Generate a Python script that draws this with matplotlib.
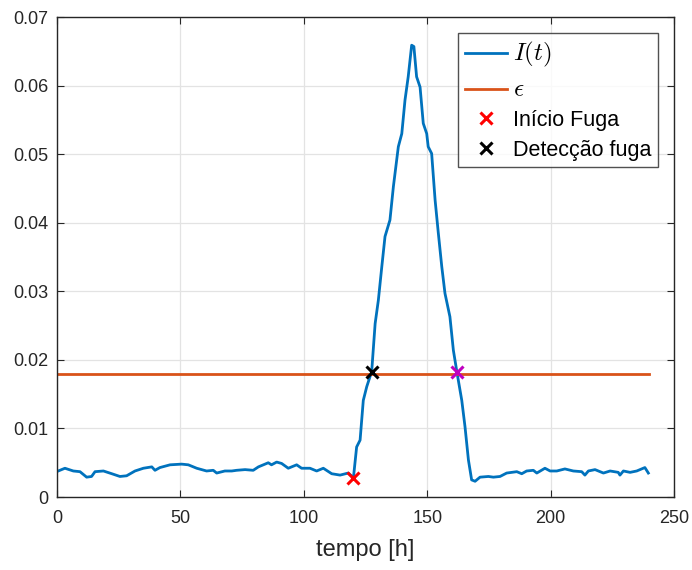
import numpy as np
import matplotlib
matplotlib.use('Agg')
from matplotlib import pyplot as plt

plt.rcParams['font.family'] = ['Liberation Sans', 'DejaVu Sans']
plt.rcParams['mathtext.fontset'] = 'cm'

# I(t) curve
t = [0.5, 3.2, 6.6, 9.3, 12, 14, 15.4, 18.8, 22.2, 25.5, 28.2, 31.6, 35, 38.4, 39.7,
     41.7, 45.8, 50.5, 53.2, 56.6, 60.6, 63.3, 64.7, 68, 70.8, 72.8, 76.2, 79.5, 81.6,
     85.6, 86.9, 89, 91, 93.7, 97.1, 99.1, 102.5, 105.2, 107.9, 111.3, 114.7, 118, 120.1,
     121.4, 122.8, 124.1, 125.5, 127.5, 128.9, 130.2, 131.6, 132.9, 134.9, 136.3, 138.3,
     139.7, 141, 142.3, 143.7, 144.6, 145.7, 147.1, 148.4, 149.8, 150.4, 151.8, 153.2,
     154.5, 155.9, 157.2, 159.2, 160.6, 162, 164, 165.3, 166.7, 168, 169.4, 171.4, 174.8,
     176.8, 179.5, 182.2, 186.3, 188.3, 190.3, 193, 194.4, 197.7, 199.8, 202.5, 205.8,
     209.2, 212.6, 213.9, 215.3, 218, 221.4, 224.1, 227.4, 228.1, 229.5, 232.2, 234.9,
     238.2, 239.6]
i_t = [0.0038, 0.0042, 0.0038, 0.0037, 0.0029, 0.0030, 0.0037, 0.0038, 0.0034, 0.0030,
       0.0031, 0.0038, 0.0042, 0.0044, 0.0039, 0.0043, 0.0047, 0.0048, 0.0047, 0.0042,
       0.0038, 0.0039, 0.0035, 0.0038, 0.0038, 0.0039, 0.0040, 0.0039, 0.0044, 0.0050,
       0.0047, 0.0051, 0.0049, 0.0042, 0.0047, 0.0042, 0.0042, 0.0038, 0.0042, 0.0034,
       0.0032, 0.0035, 0.0028, 0.0073, 0.0083, 0.0141, 0.0161, 0.0183, 0.0253, 0.0287,
       0.0336, 0.0380, 0.0404, 0.0453, 0.0511, 0.0530, 0.0579, 0.0613, 0.0659, 0.0657,
       0.0613, 0.0598, 0.0545, 0.0530, 0.0511, 0.0501, 0.0433, 0.0385, 0.0336, 0.0297,
       0.0263, 0.0214, 0.0183, 0.0141, 0.0103, 0.0054, 0.0025, 0.0023, 0.0029, 0.0030,
       0.0029, 0.0030, 0.0035, 0.0037, 0.0034, 0.0038, 0.0039, 0.0035, 0.0042, 0.0038,
       0.0038, 0.0041, 0.0038, 0.0037, 0.0032, 0.0038, 0.0040, 0.0035, 0.0038, 0.0036,
       0.0032, 0.0038, 0.0036, 0.0038, 0.0043, 0.0035]

eps_t = [0, 240]
eps_val = 0.018

inicio = (120.1, 0.0028)
deteccao = (127.8, 0.0182)
fim = (162.2, 0.0182)

fig = plt.figure(figsize=(6.92, 5.7), dpi=100)
ax = fig.add_axes([0.0824, 0.128, 0.8916, 0.842])

ax.plot(t, i_t, color='#0072BD', lw=2, label=r'$I(t)$')
ax.plot(eps_t, [eps_val, eps_val], color='#D95319', lw=2, label=r'$\epsilon$')
ax.plot(*inicio, 'x', color='r', ms=8, mew=2.2, ls='none', label='Início Fuga')
ax.plot(*deteccao, 'x', color='k', ms=8, mew=2.2, ls='none', label='Detecção fuga')
ax.plot(*fim, 'x', color='m', ms=8, mew=2.2, ls='none')

ax.set_xlim(0, 250)
ax.set_ylim(0, 0.07)
ax.set_xticks(np.arange(0, 251, 50))
ax.set_yticks(np.arange(0, 0.071, 0.01))
ax.set_yticklabels(['0', '0.01', '0.02', '0.03', '0.04', '0.05', '0.06', '0.07'])
ax.tick_params(direction='in', top=True, right=True, labelsize=13, length=5,
               color='#262626', labelcolor='#262626')
ax.tick_params(axis='x', pad=9)
ax.tick_params(axis='y', pad=6)
ax.grid(True, color='#e3e3e3', lw=0.9)
ax.set_axisbelow(True)
for s in ax.spines.values():
    s.set_color('#262626')
    s.set_linewidth(1)
ax.set_xlabel('tempo [h]', fontsize=17, color='#262626', labelpad=9)

leg = ax.legend(loc='upper right', fontsize=15.5, frameon=True, fancybox=False,
                edgecolor='#262626', borderaxespad=0.75, handlelength=1.95,
                handletextpad=0.3, labelspacing=0.4, borderpad=0.3)
leg.get_frame().set_linewidth(1)
# math labels look larger in the original
leg.get_texts()[0].set_fontsize(18)
leg.get_texts()[1].set_fontsize(18)

fig.savefig('out.png', dpi=100)
